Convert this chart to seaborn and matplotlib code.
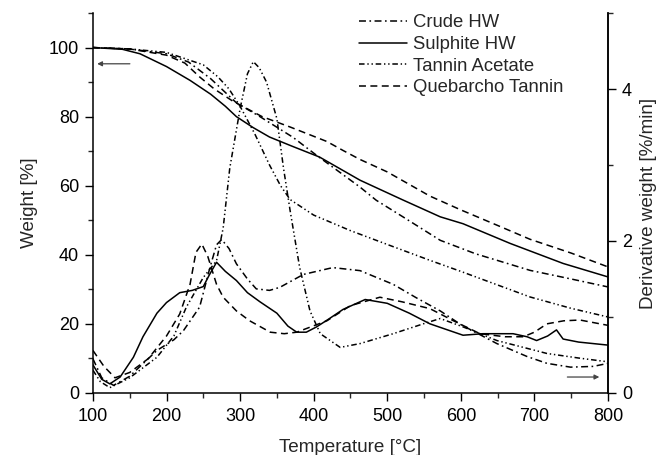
import matplotlib
matplotlib.use("Agg")
import matplotlib.pyplot as plt
from matplotlib.ticker import MultipleLocator
import seaborn as sns

# --- TG curves (weight %, left axis) ---
crude_tg_t = [100, 150, 200, 230, 260, 295, 327, 372, 404, 463, 485, 522, 572, 620, 694, 750, 800]
crude_tg_w = [100, 99.6, 98.2, 95.8, 91, 84, 80, 74, 68.8, 59.6, 55.8, 50.9, 44.2, 40.3, 35.5, 33, 30.7]

sulph_tg_t = [100, 140, 164, 200, 232, 260, 280, 295, 318, 340, 370, 408, 463, 520, 572, 603, 667, 739, 800]
sulph_tg_w = [100, 99.5, 98.2, 94.5, 90.5, 86.5, 83, 80, 76.8, 74.1, 71.5, 68.3, 61.6, 56, 51, 49, 43.3, 37.5, 33.6]

acet_tg_t = [100, 150, 200, 250, 270, 285, 300, 320, 340, 355, 368, 400, 450, 500, 558, 600, 694, 750, 800]
acet_tg_w = [100, 99.6, 98.6, 95, 91.5, 88, 83, 75, 66, 60, 56, 51.5, 47, 43, 38.4, 35.2, 27.8, 24.5, 22]

queb_tg_t = [100, 150, 200, 225, 245, 265, 290, 330, 368, 418, 440, 463, 500, 558, 600, 650, 694, 750, 800]
queb_tg_w = [100, 99.6, 97.8, 95.5, 91.5, 88, 84.5, 80, 77, 72.8, 70.2, 67.6, 64, 57, 53, 48.5, 44.5, 40.5, 36.5]

# --- DTG curves (%/min, right axis) ---
crude_dtg_t = [100, 112, 128, 150, 187, 210, 223, 245, 259, 268, 275, 285, 295, 310, 322, 340, 354,
               386, 426, 463, 508, 540, 572, 600, 649, 690, 717, 749, 780, 800]
crude_dtg_d = [0.45, 0.2, 0.1, 0.22, 0.56, 0.7, 0.82, 1.13, 1.65, 1.95, 2.02, 1.9, 1.7, 1.5, 1.37, 1.35, 1.39,
               1.56, 1.65, 1.61, 1.43, 1.25, 1.08, 0.9, 0.65, 0.48, 0.39, 0.34, 0.35, 0.39]

sulph_dtg_t = [100, 112, 123, 137, 155, 168, 187, 200, 218, 235, 250, 258, 268, 280, 295, 310, 327,
               350, 365, 377, 390, 404, 420, 440, 470, 500, 530, 558, 603, 630, 671, 690, 703, 718, 730, 739,
               760, 800]
sulph_dtg_d = [0.37, 0.18, 0.12, 0.21, 0.47, 0.74, 1.05, 1.19, 1.32, 1.35, 1.4, 1.55, 1.72, 1.6, 1.48,
               1.32, 1.2, 1.05, 0.88, 0.8, 0.8, 0.87, 0.97, 1.1, 1.23, 1.18, 1.05, 0.91, 0.76, 0.78, 0.78, 0.74,
               0.69, 0.75, 0.83, 0.71, 0.67, 0.63]

acet_dtg_t = [100, 110, 123, 150, 187, 210, 227, 250, 268, 277, 286, 300, 310, 318, 326, 336, 350, 359,
              368, 381, 395, 409, 436, 463, 508, 549, 572, 603, 649, 717, 760, 800]
acet_dtg_d = [0.3, 0.15, 0.07, 0.2, 0.47, 0.75, 1.13, 1.52, 1.74, 2.17, 2.96, 3.74, 4.2, 4.36, 4.28, 4.09, 3.61, 2.96,
              2.4, 1.65, 1.08, 0.78, 0.6, 0.65, 0.78, 0.91, 0.98, 0.87, 0.69, 0.52, 0.46, 0.41]

queb_dtg_t = [100, 115, 130, 150, 175, 200, 218, 232, 240, 248, 256, 268, 277, 295, 313, 341, 360, 377,
              418, 450, 490, 520, 558, 590, 626, 660, 685, 700, 717, 740, 762, 800]
queb_dtg_d = [0.56, 0.35, 0.2, 0.27, 0.45, 0.75, 1.04, 1.43, 1.85, 1.96, 1.8, 1.43, 1.26, 1.08, 0.95, 0.8, 0.78, 0.8,
              0.95, 1.15, 1.26, 1.2, 1.11, 0.95, 0.78, 0.74, 0.74, 0.8, 0.91, 0.95, 0.96, 0.89]

labels = ["Crude HW", "Sulphite HW", "Tannin Acetate", "Quebarcho Tannin"]

sns.set_style("ticks")
plt.rcParams["font.family"] = ["Liberation Sans", "DejaVu Sans"]
plt.rcParams["lines.scale_dashes"] = False

styles = [
    (0, (5, 2.5, 1.2, 2.5)),           # dash-dot
    "-",                                # solid
    (0, (4, 2, 1, 2, 1, 2)),           # dash-dot-dot
    (0, (5, 3.2)),                      # dashed
]

fig, ax = plt.subplots(figsize=(6.59, 4.55), dpi=100)
fig.subplots_adjust(left=0.141, right=0.9226, bottom=0.1363, top=0.9714)
ax2 = ax.twinx()

tg = [(crude_tg_t, crude_tg_w), (sulph_tg_t, sulph_tg_w), (acet_tg_t, acet_tg_w), (queb_tg_t, queb_tg_w)]
dtg = [(crude_dtg_t, crude_dtg_d), (sulph_dtg_t, sulph_dtg_d), (acet_dtg_t, acet_dtg_d), (queb_dtg_t, queb_dtg_d)]

for (t, w), ls in zip(tg, styles):
    sns.lineplot(x=t, y=w, ax=ax, color="black", linewidth=1.1, linestyle=ls)
for (t, d), ls in zip(dtg, styles):
    sns.lineplot(x=t, y=d, ax=ax2, color="black", linewidth=1.1, linestyle=ls)

ax.set_xlim(100, 800)
ax.set_ylim(0, 110)
ax2.set_ylim(0, 5)

ax.xaxis.set_major_locator(MultipleLocator(100))
ax.xaxis.set_minor_locator(MultipleLocator(50))
ax.yaxis.set_major_locator(MultipleLocator(20))
ax.yaxis.set_minor_locator(MultipleLocator(10))
ax2.yaxis.set_major_locator(MultipleLocator(2))
ax2.yaxis.set_minor_locator(MultipleLocator(1))

for a in (ax, ax2):
    a.tick_params(which="major", direction="out", length=6, width=1, labelsize=13, colors="black", pad=4)
    a.tick_params(which="minor", direction="out", length=3.5, width=1)
    for s in a.spines.values():
        s.set_linewidth(1.1)
        s.set_color("black")
ax.tick_params(axis="x", which="major", pad=5)
ax.spines["top"].set_visible(False)
ax2.spines["top"].set_visible(False)
ax2.spines["left"].set_visible(False)
ax2.spines["bottom"].set_visible(False)

ax.set_xlabel("Temperature [°C]", fontsize=13.6, labelpad=10)
ax.set_ylabel("Weight [%]", fontsize=13.6, labelpad=8)
ax2.set_ylabel("Derivative weight [%/min]", fontsize=13.6, labelpad=6)

# direction arrows
ax.annotate("", xy=(102, 95.3), xytext=(154, 95.3),
            arrowprops=dict(arrowstyle="-|>", color="#444444", lw=0.9, mutation_scale=7))
ax2.annotate("", xy=(792, 0.21), xytext=(741, 0.21),
             arrowprops=dict(arrowstyle="-|>", color="#444444", lw=0.9, mutation_scale=7))

ax2.legend(ax.lines[:4], labels, loc="upper right", bbox_to_anchor=(0.945, 1.04),
           frameon=False, fontsize=13.3, handlelength=2.6, handletextpad=0.3, labelspacing=0.25)

fig.savefig("out.png", dpi=100)
